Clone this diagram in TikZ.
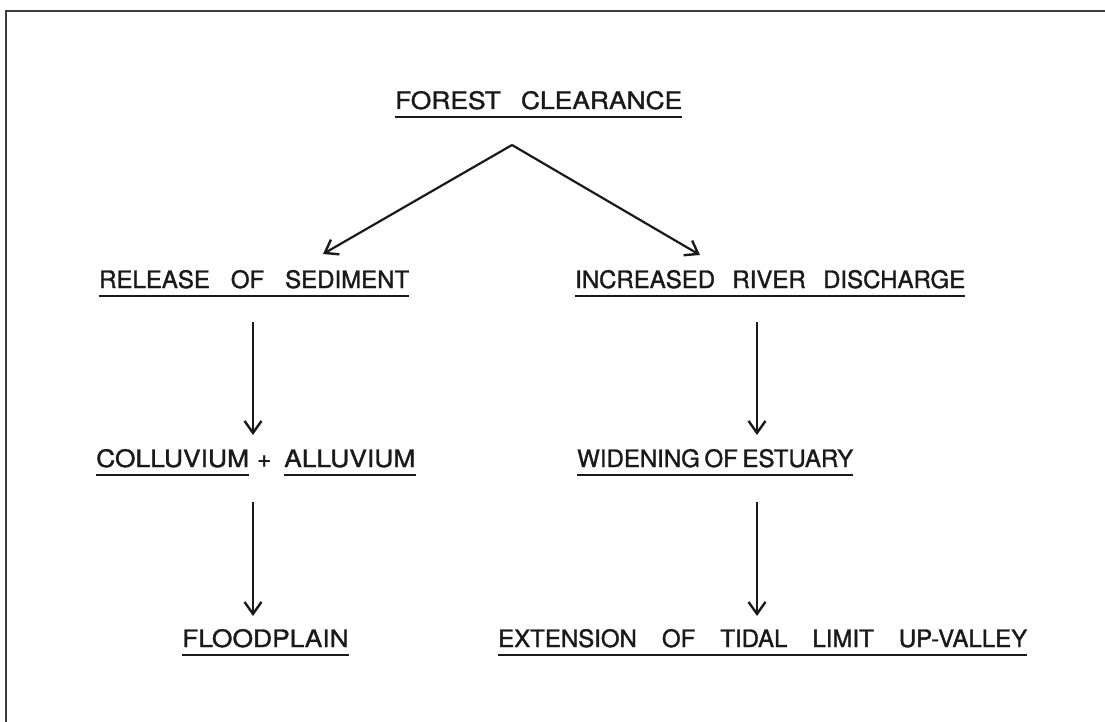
\documentclass[tikz,border=0pt]{standalone}
\usepackage{fontspec}
\setmainfont{TeX Gyre Heros}[FakeBold=1.4]
\newfontfamily\widefont{TeX Gyre Heros}[FakeStretch=1.1,FakeBold=1.4]
\usetikzlibrary{arrows.meta}
\definecolor{ink}{HTML}{1A1A1A}
\tikzset{
  lab/.style={anchor=base west, inner sep=0pt, text=ink, font=\fontsize{24}{28}\selectfont},
  widelab/.style={lab, font=\fontsize{24}{28}\selectfont\widefont},
  uline/.style={draw=ink, line width=2.8pt},
  frameline/.style={draw=ink!85, line width=2pt},
  arr/.style={draw=ink, line width=2.2pt, -{Straight Barb[length=12pt,width=17pt,line width=2.4pt]}}
}
\begin{document}
\begin{tikzpicture}[x=1pt,y=-1pt]
\useasboundingbox (0,0) rectangle (1105,722);
% frame (only top and left edges visible)
\draw[frameline] (6,722) -- (6,11) -- (1105,11);

% labels
\node[widelab] (fc) at (395,109) {\makebox[287pt][s]{FOREST\ \ CLEARANCE}};
\node[lab] (rs) at (99,288) {\makebox[310pt][s]{RELEASE OF SEDIMENT}};
\node[lab] (ir) at (575,288) {\makebox[390pt][s]{INCREASED RIVER DISCHARGE}};
\node[widelab] (col) at (96,467) {COLLUVIUM};
\node[lab] (plus) at (257,467) {+};
\node[widelab] (all) at (284,467) {ALLUVIUM};
\node[lab] (we) at (577,467) {\makebox[276pt][s]{WIDENING OF ESTUARY}};
\node[widelab] (fp) at (182,647) {FLOODPLAIN};
\node[lab] (ex) at (498,647) {\makebox[529pt][s]{EXTENSION OF TIDAL LIMIT UP-VALLEY}};

% underlines
\foreach \n in {fc,rs,ir,col,all,we,fp,ex}
  \draw[uline] ([yshift=-8pt]\n.base west) -- ([yshift=-8pt]\n.base east);

% arrows
\coordinate (apex) at (512,145);
\coordinate (lt) at (323,254);
\coordinate (rt) at (700,255);
\draw[arr] (apex) -- (lt);
\draw[arr] (apex) -- (rt);

\coordinate (a1s) at (253,322); \coordinate (a1e) at (253,435);
\coordinate (a2s) at (757,322); \coordinate (a2e) at (757,435);
\coordinate (a3s) at (253,502); \coordinate (a3e) at (253,616);
\coordinate (a4s) at (757,502); \coordinate (a4e) at (757,616);
\draw[arr] (a1s) -- (a1e);
\draw[arr] (a2s) -- (a2e);
\draw[arr] (a3s) -- (a3e);
\draw[arr] (a4s) -- (a4e);
\end{tikzpicture}
\end{document}
